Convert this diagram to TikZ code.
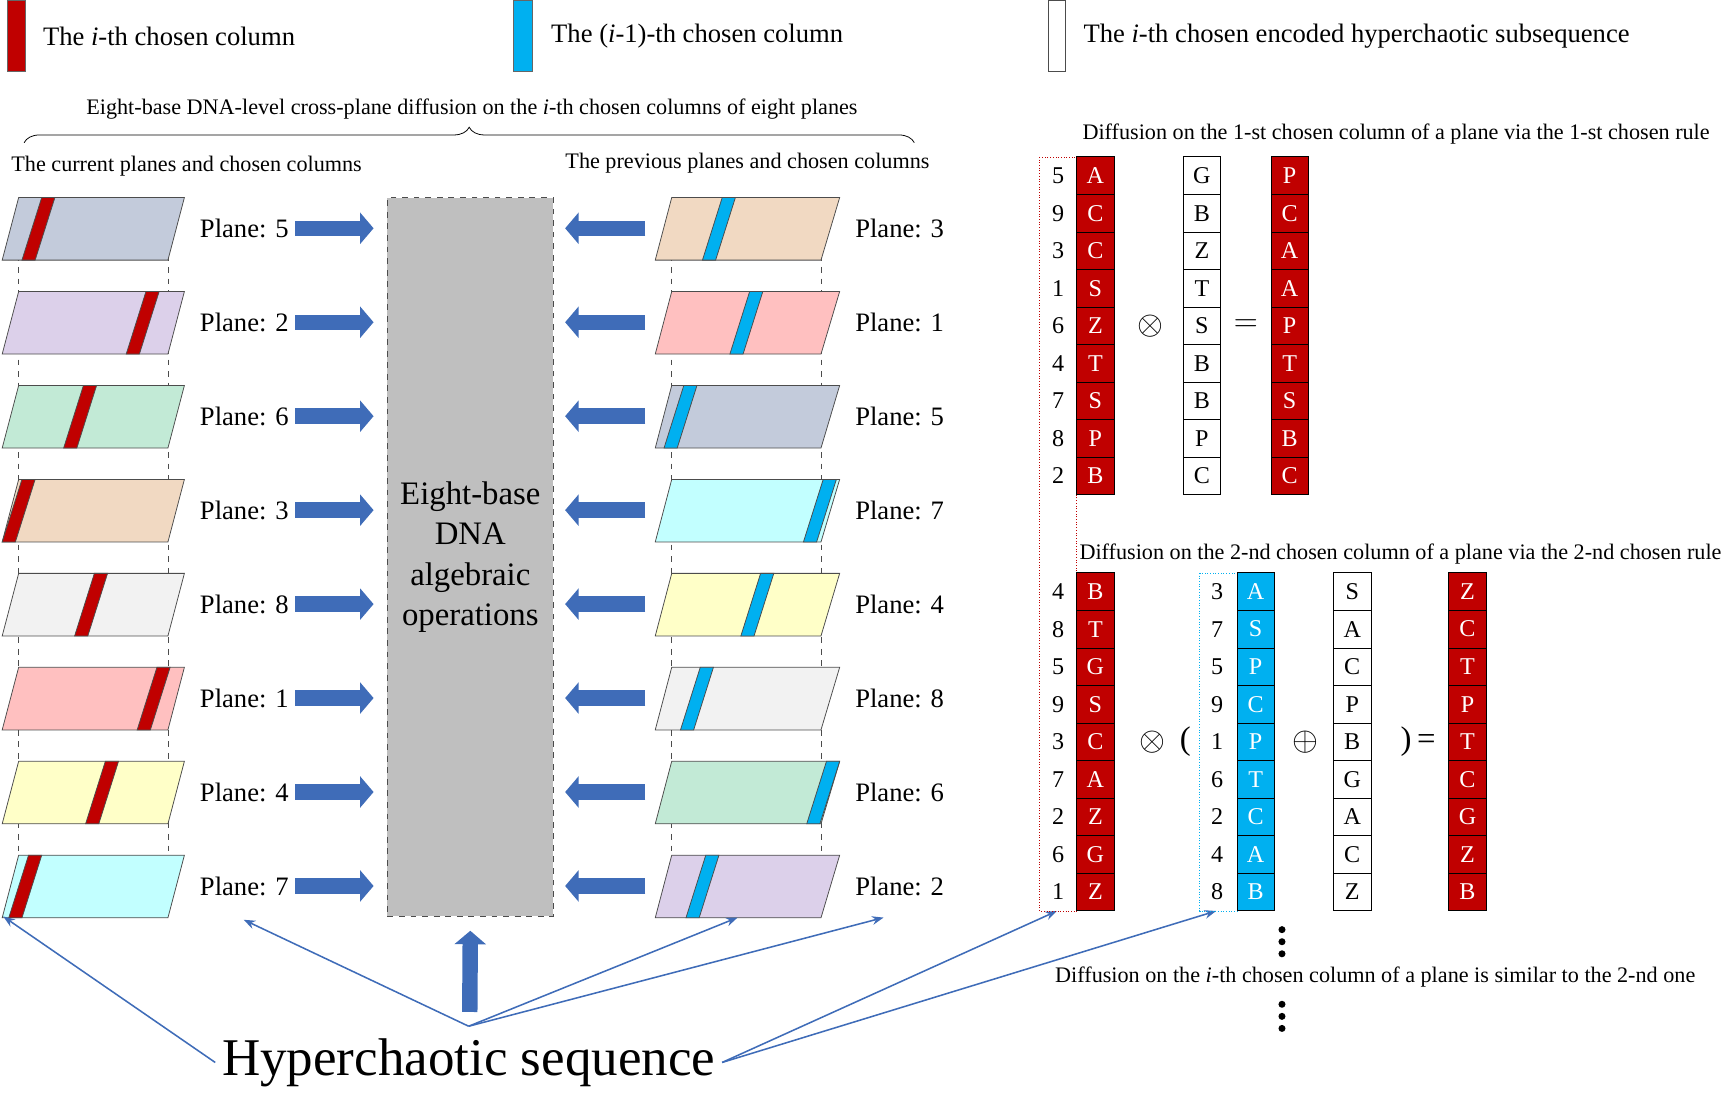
\documentclass[tikz,border=0pt]{standalone}
\usepackage{fontspec}
\setmainfont{Liberation Serif}
\usetikzlibrary{positioning,arrows.meta,decorations.pathreplacing,calc}
\definecolor{cred}{HTML}{C00000}
\definecolor{ccyan}{HTML}{00B0F0}
\definecolor{fblue}{HTML}{3F6CB8}
\definecolor{pgray}{HTML}{C3CBDB}
\definecolor{plav}{HTML}{DCD0EA}
\definecolor{pmint}{HTML}{C2EAD6}
\definecolor{ppeach}{HTML}{F1D9C2}
\definecolor{plight}{HTML}{F2F2F2}
\definecolor{ppink}{HTML}{FFC0C0}
\definecolor{pyel}{HTML}{FFFFC8}
\definecolor{pcyan}{HTML}{C2FFFF}
\tikzset{
  plane/.style={draw=black!70, thin},
  stripe/.style={draw=black!70, thin},
  fat/.style={line width=8pt, fblue, -{Triangle[length=7pt,width=16pt]}},
  thinarr/.style={fblue, thick, -{Stealth[length=6pt]}},
  lab/.style={font=\fontsize{13.8}{15}\selectfont},
  ttl/.style={font=\fontsize{11.5}{13}\selectfont},
  cell/.style={draw, minimum width=0.68cm, minimum height=0.684cm, inner sep=0pt, font=\fontsize{12.5}{13}\selectfont},
  rcell/.style={cell, fill=cred, text=white},
  ccell/.style={cell, fill=ccyan, text=white},
  num/.style={font=\fontsize{12.5}{13}\selectfont},
  op/.style={font=\fontsize{17}{18}\selectfont}
}
\begin{document}
\begin{tikzpicture}[x=0.02cm, y=-0.02cm]
\useasboundingbox (0,0) rectangle (1568,996);

% legend
\fill[cred, draw=black!60] (7,0) rectangle (23,65);
\node[lab, anchor=west] (lg1) at (33,33) {The \textit{i}-th chosen column};
\fill[ccyan, draw=black!60] (468,0) rectangle (485,65);
\node[lab, anchor=west] (lg2) at (496,33) {The (\textit{i}-1)-th chosen column};
\draw[black!70] (955,0) rectangle (971,65);
\node[lab, anchor=west] (lg3) at (981,33) {The \textit{i}-th chosen encoded hyperchaotic subsequence};

% top titles
\node[ttl] (top) at (430,99) {Eight-base DNA-level cross-plane diffusion on the \textit{i}-th chosen columns of eight planes};
\draw[decorate, decoration={brace, amplitude=8pt}] (22,130) -- (833,130);
\node[ttl] (cur) at (170,151) {The current planes and chosen columns};
\node[ttl] (prev) at (681,149) {The previous planes and chosen columns};

% central box
\node[draw=black!70, dashed, fill=black!25, minimum width=3.02cm, minimum height=13.1cm,
  align=center, font=\fontsize{17}{21}\selectfont] (ops) at (428.5,507.5)
  {Eight-base\\DNA\\algebraic\\operations};

% dashed guides
\foreach \x in {17,153,612,748}
  \draw[dashed, black!70] (\x,180) -- (\x,835);

% current planes
\foreach \i/\n/\c/\s in {0/5/pgray/20,1/2/plav/115,2/6/pmint/58,3/3/ppeach/2,4/8/plight/68,5/1/ppink/125,6/4/pyel/78,7/7/pcyan/8} {
  \pgfmathsetmacro\y{180+85.6*\i}
  \draw[plane, fill=\c] (2,\y+57) -- (153,\y+57) -- (168,\y) -- (17,\y) -- cycle;
  \draw[stripe, fill=cred] (\s,\y+57) -- (\s+12,\y+57) -- (\s+30,\y) -- (\s+18,\y) -- cycle;
  \node[lab, anchor=west] (pl\i) at (176,\y+28) {Plane: \n};
  \draw[fat, shorten >=7pt] (pl\i.east) -- (ops.west |- pl\i.east);
}

% previous planes
\foreach \i/\n/\c/\s in {0/3/ppeach/640,1/1/ppink/665,2/5/pgray/605,3/7/pcyan/732,4/4/pyel/675,5/8/plight/620,6/6/pmint/735,7/2/plav/625} {
  \pgfmathsetmacro\y{180+85.6*\i}
  \draw[plane, fill=\c] (597,\y+57) -- (748,\y+57) -- (765,\y) -- (612,\y) -- cycle;
  \draw[stripe, fill=ccyan] (\s,\y+57) -- (\s+12,\y+57) -- (\s+30,\y) -- (\s+18,\y) -- cycle;
  \node[lab, anchor=west] (pr\i) at (773,\y+28) {Plane: \n};
  \coordinate (ar\i) at (588,\y+28);
  \draw[fat, shorten >=6pt] (ar\i) -- (ops.east |- ar\i);
}

% hyperchaotic sequence
\node[font=\fontsize{27.5}{30}\selectfont] (hs) at (427,968) {Hyperchaotic sequence};
\coordinate (hsup) at (428,922);
\draw[fat] (hsup) -- (ops.south |- 0,848);
\coordinate (hl) at (427,935);
\draw[thinarr] (hs.west) -- (3,835);
\draw[thinarr] (hl) -- (222,838);
\draw[thinarr] (hl) -- (672,836);
\draw[thinarr] (hl) -- (805,836);
\draw[thinarr] (hs.east) -- (963,830);
\draw[thinarr] (hs.east) -- (1108,830);

% rule 1
\node[ttl] (t1) at (1272,122) {Diffusion on the 1-st chosen column of a plane via the 1-st chosen rule};
\draw[cred, densely dotted] (947,143) rectangle (981,830);
\foreach \k/\n/\a/\b/\r in {0/5/A/G/P,1/9/C/B/C,2/3/C/Z/A,3/1/S/T/A,4/6/Z/S/P,5/4/T/B/T,6/7/S/B/S,7/8/P/P/B,8/2/B/C/C} {
  \pgfmathsetmacro\y{160+34.2*\k}
  \node[num] (na\k) at (964,\y) {\n};
  \node[rcell] (ca\k) at (998,\y) {\a};
  \node[cell] (ka\k) at (1095,\y) {\b};
  \node[rcell] (ra\k) at (1175,\y) {\r};
}
\node[op] (ot1) at (1048,297) {$\otimes$};
\node[op] (eq1) at (1135,297) {$=$};

% rule 2
\node[ttl] (t2) at (1276,505) {Diffusion on the 2-nd chosen column of a plane via the 2-nd chosen rule};
\draw[ccyan, densely dotted] (1093,522) rectangle (1127,830);
\foreach \k/\n/\a/\m/\c/\b/\r in {0/4/B/3/A/S/Z,1/8/T/7/S/A/C,2/5/G/5/P/C/T,3/9/S/9/C/P/P,4/3/C/1/P/B/T,5/7/A/6/T/G/C,6/2/Z/2/C/A/G,7/6/G/4/A/C/Z,8/1/Z/8/B/Z/B} {
  \pgfmathsetmacro\y{539+34.2*\k}
  \node[num] (nb\k) at (964,\y) {\n};
  \node[rcell] (cb\k) at (998,\y) {\a};
  \node[num] (mb\k) at (1109,\y) {\m};
  \node[ccell] (db\k) at (1144,\y) {\c};
  \node[cell] (kb\k) at (1232,\y) {\b};
  \node[rcell] (rb\k) at (1337,\y) {\r};
}
\node[op] (ot2) at (1050,676) {$\otimes$};
\node[op] (lp) at (1080,676) {(};
\node[op] (op2) at (1189,676) {$\oplus$};
\node[op] (rp) at (1292,676) {)$\,$=};

% i-th rule
\foreach \y in {847,858,869,915,926,937}
  \fill (1168,\y) circle (3.2);
\node[ttl] (t3) at (1253,890) {Diffusion on the \textit{i}-th chosen column of a plane is similar to the 2-nd one};
\end{tikzpicture}
\end{document}
